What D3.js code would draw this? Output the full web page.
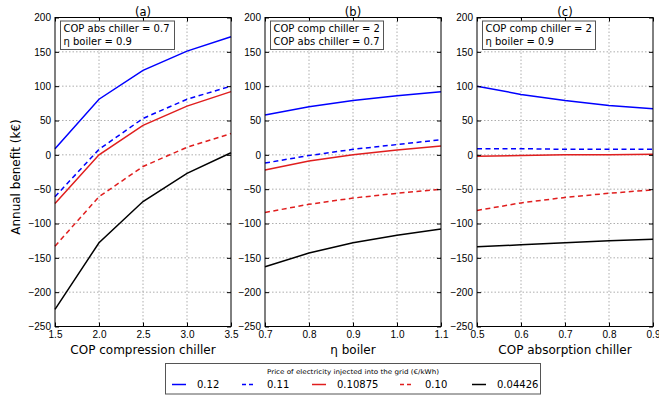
<!DOCTYPE html>
<html lang="en">
<head>
<meta charset="UTF-8">
<title>Annual benefit</title>
<script src="https://d3js.org/d3.v7.min.js"></script>
<style>
  body { margin: 0; background: #fff; }
  svg { font-family: "DejaVu Sans", sans-serif; }
  .grid line { stroke: #999; stroke-dasharray: 1.5,2; stroke-width: 0.8; }
  .tick text { font-size: 10px; fill: #000; }
</style>
</head>
<body>
<svg width="659" height="397"></svg>
<script>
// series names (price of electricity injected, €/kWh)
const prices = ["0.12", "0.11", "0.10875", "0.10", "0.04426"];
const colors = ["#0000ff", "#0000ff", "#e01e1e", "#e01e1e", "#000000"];
const dashed = [false, true, false, true, false];

// panel (a): COP compression chiller
const xA = [1.5, 2.0, 2.5, 3.0, 3.5];
const valsA = [
  [9, 81, 123, 151, 172],
  [-61, 8, 53, 81, 100],
  [-71, 0, 43, 71, 92],
  [-133, -61, -17, 11, 31],
  [-225, -128, -68, -27, 3]
];
// panel (b): eta boiler
const xB = [0.7, 0.8, 0.9, 1.0, 1.1];
const valsB = [
  [58, 70, 79, 86, 92],
  [-12, -1, 8, 15, 22],
  [-22, -9, 0, 7, 13],
  [-84, -72, -63, -56, -50],
  [-163, -143, -128, -117, -108]
];
// panel (c): COP absorption chiller
const xC = [0.5, 0.6, 0.7, 0.8, 0.9];
const valsC = [
  [100, 88, 79, 72, 67],
  [9, 9, 8, 8, 8],
  [-2, -1, 0, 0, 1],
  [-81, -70, -62, -56, -51],
  [-134, -131, -128, -125, -123]
];

const panels = [
  {title: "(a)", x: xA, vals: valsA, left: 55, label: "COP compression chiller",
   note: ["COP abs chiller = 0.7", "η boiler = 0.9"], noteW: 114},
  {title: "(b)", x: xB, vals: valsB, left: 265, label: "η boiler",
   note: ["COP comp chiller = 2", "COP abs chiller = 0.7"], noteW: 113},
  {title: "(c)", x: xC, vals: valsC, left: 477, label: "COP absorption chiller",
   note: ["COP comp chiller = 2", "η boiler = 0.9"], noteW: 113}
];

const svg = d3.select("svg");
const pw = 176, plotTop = 17.5, plotBottom = 326.5;
const y = d3.scaleLinear().domain([-250, 200]).range([plotBottom, plotTop]);
const yTicks = d3.range(-250, 201, 50);
const minus = d => d3.format("d")(d).replace("-", "\u2212");

panels.forEach(p => {
  const x = d3.scaleLinear().domain(d3.extent(p.x)).range([p.left, p.left + pw]);
  const g = svg.append("g");

  // grid
  const grid = g.append("g").attr("class", "grid");
  grid.selectAll(".gx").data(p.x.slice(1, -1)).enter().append("line")
    .attr("x1", d => x(d)).attr("x2", d => x(d)).attr("y1", plotTop).attr("y2", plotBottom);
  grid.selectAll(".gy").data(yTicks.slice(1, -1)).enter().append("line")
    .attr("x1", p.left).attr("x2", p.left + pw).attr("y1", d => y(d)).attr("y2", d => y(d));

  // lines
  const line = d3.line().x((d, i) => x(p.x[i])).y(d => y(d));
  p.vals.forEach((v, k) => {
    g.append("path").datum(v)
      .attr("d", line).attr("fill", "none")
      .attr("stroke", colors[k]).attr("stroke-width", 1.5)
      .attr("stroke-dasharray", dashed[k] ? "5,3.5" : null);
  });

  // axes with inward ticks, on all four sides
  g.append("g").attr("transform", `translate(0,${plotBottom})`)
    .call(d3.axisBottom(x).tickValues(p.x).tickFormat(d3.format(".1f"))
      .tickSizeInner(-4).tickSizeOuter(0).tickPadding(4))
    .call(a => a.select(".domain").remove());
  g.append("g").attr("transform", `translate(0,${plotTop})`)
    .call(d3.axisTop(x).tickValues(p.x).tickFormat("")
      .tickSizeInner(-4).tickSizeOuter(0))
    .call(a => a.select(".domain").remove());
  g.append("g").attr("transform", `translate(${p.left},0)`)
    .call(d3.axisLeft(y).tickValues(yTicks).tickFormat(minus)
      .tickSizeInner(-4).tickSizeOuter(0).tickPadding(4))
    .call(a => a.select(".domain").remove());
  g.append("g").attr("transform", `translate(${p.left + pw},0)`)
    .call(d3.axisRight(y).tickValues(yTicks).tickFormat("")
      .tickSizeInner(-4).tickSizeOuter(0))
    .call(a => a.select(".domain").remove());
  g.selectAll(".tick line").attr("stroke", "#000");

  // frame
  g.append("rect").attr("x", p.left).attr("y", plotTop).attr("width", pw)
    .attr("height", plotBottom - plotTop).attr("fill", "none").attr("stroke", "#000").attr("stroke-width", 1);

  // title
  g.append("text").attr("x", p.left + pw / 2).attr("y", 15.5).attr("text-anchor", "middle")
    .attr("font-size", 11.5).text(p.title);

  // x label
  g.append("text").attr("x", p.left + pw / 2).attr("y", 353.5).attr("text-anchor", "middle")
    .attr("font-size", 12).text(p.label);

  // annotation box
  g.append("rect").attr("x", p.left + 5.5).attr("y", 21).attr("width", p.noteW).attr("height", 28.5)
    .attr("fill", "#fff").attr("stroke", "#555").attr("stroke-width", 1);
  p.note.forEach((t, i) => {
    g.append("text").attr("x", p.left + 8.5).attr("y", 31.5 + i * 13)
      .attr("font-size", 10).text(t);
  });
});

// y label
svg.append("text").attr("transform", "translate(20,177) rotate(-90)")
  .attr("text-anchor", "middle").attr("font-size", 12).text("Annual benefit (k€)");

// legend
const leg = svg.append("g");
leg.append("rect").attr("x", 165.5).attr("y", 363.5).attr("width", 375).attr("height", 30.5)
  .attr("fill", "#fff").attr("stroke", "#555").attr("stroke-width", 1);
leg.append("text").attr("x", 267).attr("y", 373.5)
  .attr("font-size", 6.5).attr("textLength", 172).attr("lengthAdjust", "spacingAndGlyphs")
  .text("Price of electricity injected into the grid (€/kWh)");
const legX = [172, 242, 312, 400, 472];
prices.forEach((s, k) => {
  leg.append("line").attr("x1", legX[k]).attr("x2", legX[k] + 14)
    .attr("y1", 384.5).attr("y2", 384.5)
    .attr("stroke", colors[k]).attr("stroke-width", 1.5)
    .attr("stroke-dasharray", dashed[k] ? "4,3" : null);
  leg.append("text").attr("x", legX[k] + 25).attr("y", 388)
    .attr("font-size", 10).text(s);
});
</script>
</body>
</html>
